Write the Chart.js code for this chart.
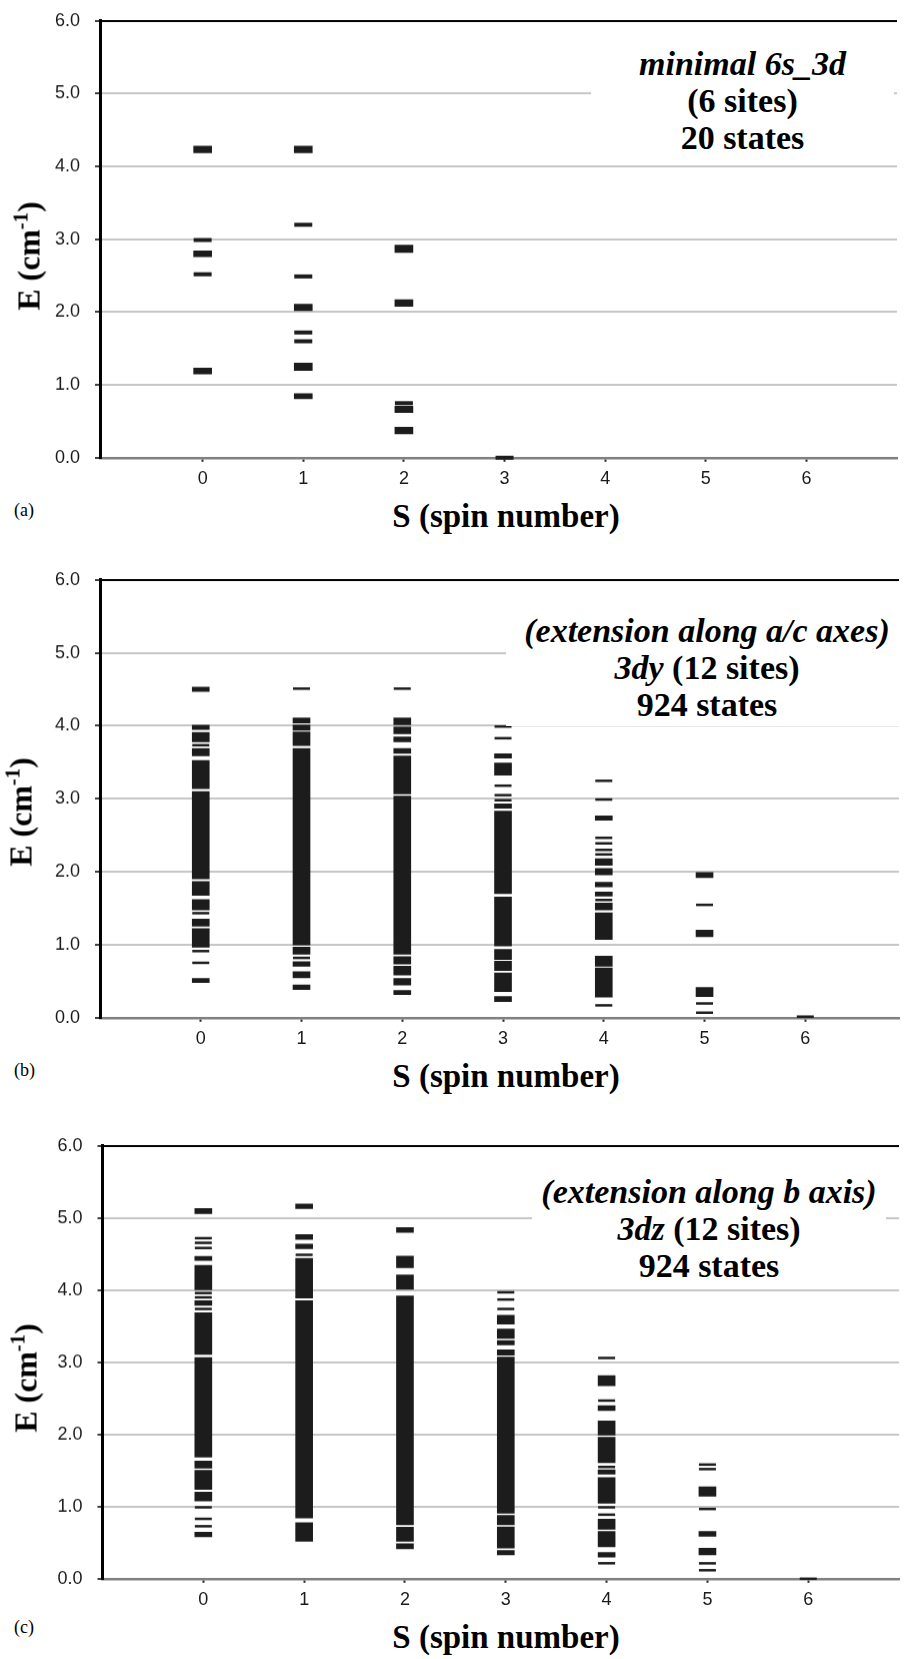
<!DOCTYPE html>
<html>
<head>
<meta charset="utf-8">
<title>Energy levels vs spin number</title>
<script src="https://cdn.jsdelivr.net/npm/chart.js@4.4.1/dist/chart.umd.min.js"></script>
<style>
  html, body { margin: 0; padding: 0; background: #fff; }
  #page { position: relative; width: 910px; height: 1659px; overflow: hidden; background: #fff; }
  .panel { position: absolute; left: 0; width: 910px; }
  .note { position: absolute; background: #fff; text-align: center; color: #000; z-index: 2;
          font: bold 34px/37px "Liberation Serif", "Times New Roman", serif; }
  .ytitle, .xtitle { position: absolute; white-space: nowrap; color: #000; z-index: 2;
          font: bold 33px "Liberation Serif", "Times New Roman", serif; }
  .ytitle { font-size: 32px; transform: translate(-50%, -50%) rotate(-90deg); }
  .xtitle { transform: translate(-50%, -50%); }
  .ytitle sup { font-size: 0.65em; position: relative; top: -0.12em; vertical-align: top; }
  .tag { position: absolute; left: 14px; transform: translateY(-50%); color: #000;
         font: 18px "Liberation Serif", "Times New Roman", serif; }
</style>
</head>
<body>
<div id="page">
  <div class="panel" id="boxA"><canvas id="chartA"></canvas></div>
  <div class="panel" id="boxB"><canvas id="chartB"></canvas></div>
  <div class="panel" id="boxC"><canvas id="chartC"></canvas></div>

  <div class="note" style="left:591px; top:45px; width:303px; height:115px;">
    <i>minimal 6s_3d</i><br>(6 sites)<br>20 states
  </div>
  <div class="note" style="left:506px; top:612px; width:402px; height:114px;">
    <i>(extension along a/c axes)</i><br><i>3dy</i> (12 sites)<br>924 states
  </div>
  <div class="note" style="left:532px; top:1173px; width:354px; height:115px;">
    <i>(extension along b axis)</i><br><i>3dz</i> (12 sites)<br>924 states
  </div>

  <div class="ytitle" style="left:29px; top:256px;">E (cm<sup>-1</sup>)</div>
  <div class="ytitle" style="left:21px; top:812px;">E (cm<sup>-1</sup>)</div>
  <div class="ytitle" style="left:26px; top:1378px;">E (cm<sup>-1</sup>)</div>

  <div class="xtitle" style="left:506px; top:516px;">S (spin number)</div>
  <div class="xtitle" style="left:506px; top:1076px;">S (spin number)</div>
  <div class="xtitle" style="left:506px; top:1637px;">S (spin number)</div>

  <div class="tag" style="top:510px;">(a)</div>
  <div class="tag" style="top:1070px;">(b)</div>
  <div class="tag" style="top:1627px;">(c)</div>
</div>

<script>
// axis values
const spinValues = [0, 1, 2, 3, 4, 5, 6];
const energyTicks = [0, 1, 2, 3, 4, 5, 6];

// (a) minimal 6s_3d, 20 states
// single levels per S (index = S), in cm-1
const levelsA = [
    [2.99, 2.52],
    [3.20, 2.49, 1.72, 1.60],
    [0.75],
    [0.0],
    [], [], []
];
// dense groups of levels per S, [from, to] in cm-1
const bandsA = [
    [[4.19, 4.28], [2.76, 2.84], [1.15, 1.23]],
    [[4.19, 4.28], [2.02, 2.11], [1.20, 1.30], [0.81, 0.88]],
    [[2.82, 2.92], [2.08, 2.17], [0.62, 0.71], [0.33, 0.42]],
    [], [], [], []
];

// (b) 3dy, 924 states
const levelsB = [
    [3.735, 1.433, 0.913, 0.753],
    [4.51, 0.82],
    [4.51],
    [3.99, 3.83, 3.18, 3.05, 2.98],
    [3.247, 2.99, 2.466, 2.39, 2.30, 2.238, 1.614, 0.17],
    [1.547, 0.196, 0.069],
    [0.015]
];
const bandsB = [
    [[4.47, 4.53], [3.95, 4.01], [3.78, 3.91], [3.59, 3.69], [3.14, 3.525], [1.905, 3.10],
     [1.676, 1.868], [1.479, 1.621], [1.255, 1.351], [0.966, 1.22], [0.481, 0.54]],
    [[4.038, 4.107], [3.938, 4.011], [3.73, 3.915], [0.998, 3.69], [0.87, 0.966],
     [0.705, 0.769], [0.549, 0.632], [0.385, 0.449]],
    [[4.016, 4.107], [3.892, 3.984], [3.782, 3.846], [3.622, 3.69], [3.068, 3.585],
     [0.87, 3.036], [0.737, 0.838], [0.586, 0.705], [0.449, 0.54], [0.316, 0.375]],
    [[3.557, 3.617], [3.326, 3.492], [2.87, 2.93], [1.70, 2.83], [0.984, 1.654],
     [0.799, 0.938], [0.647, 0.776], [0.36, 0.614], [0.222, 0.291]],
    [[2.707, 2.767], [2.088, 2.18], [1.958, 2.046], [1.792, 1.857], [1.667, 1.723],
     [1.478, 1.57], [1.072, 1.437], [0.707, 0.845], [0.282, 0.684]],
    [[1.921, 1.99], [1.109, 1.20], [0.291, 0.416]],
    []
];

// (c) 3dz, 924 states
const levelsC = [
    [4.72, 4.656, 4.585, 3.96, 3.90, 3.74, 0.99, 0.83, 0.728],
    [4.49],
    [],
    [3.97, 3.87, 3.74],
    [3.06, 2.47, 1.55, 0.99, 0.888, 0.215],
    [1.583, 1.52, 0.967, 0.214, 0.118],
    [0.0]
];
const bandsC = [
    [[5.06, 5.13], [4.41, 4.47], [4.006, 4.344], [3.79, 3.854], [3.11, 3.688], [1.687, 3.064],
     [1.534, 1.631], [1.238, 1.502], [1.077, 1.201], [0.582, 0.647]],
    [[5.13, 5.194], [4.704, 4.769], [4.575, 4.64], [3.891, 4.441], [0.841, 3.854], [0.518, 0.776]],
    [[4.80, 4.866], [4.311, 4.473], [4.011, 4.21], [0.749, 3.919], [0.518, 0.716], [0.416, 0.485]],
    [[3.53, 3.654], [3.33, 3.46], [3.24, 3.30], [3.10, 3.174], [0.909, 3.073], [0.747, 0.877],
     [0.424, 0.72], [0.332, 0.392]],
    [[2.676, 2.814], [2.33, 2.40], [1.993, 2.187], [1.61, 1.961], [1.449, 1.509], [1.047, 1.403],
     [0.687, 0.826], [0.443, 0.655], [0.30, 0.364]],
    [[1.144, 1.273], [0.59, 0.655], [0.332, 0.424]],
    []
];

const MARK = '#1c1c1c';
const XAXIS_H = 36;

Chart.defaults.font.family = "'Liberation Sans', Arial, sans-serif";
Chart.defaults.font.size = 18;
Chart.defaults.color = '#1a1a1a';

function buildChart(id, levels, bands, cfg) {
    const box = document.getElementById('box' + id);
    const plotH = cfg.plotBottom - cfg.plotTop;
    box.style.top = (cfg.plotTop - 15) + 'px';
    box.style.height = (plotH + 15 + XAXIS_H) + 'px';

    const levelPoints = [];
    levels.forEach((list, s) => list.forEach(e => levelPoints.push({ x: spinValues[s], y: e })));
    const bandBars = [];
    bands.forEach((list, s) => list.forEach(b => bandBars.push({ x: spinValues[s], y: b })));

    const chart = new Chart(document.getElementById('chart' + id), {
        type: 'bar',
        data: {
            datasets: [
                {
                    type: 'bar',
                    data: bandBars,
                    backgroundColor: MARK,
                    borderWidth: 0,
                    barThickness: cfg.markWidth,
                    grouped: false
                },
                {
                    type: 'scatter',
                    data: levelPoints,
                    pointStyle: 'line',
                    pointRadius: cfg.markWidth / 2,
                    borderColor: MARK,
                    backgroundColor: MARK,
                    borderWidth: cfg.lineWidth,
                    clip: false
                }
            ]
        },
        options: {
            responsive: true,
            maintainAspectRatio: false,
            devicePixelRatio: 1,
            animation: false,
            events: [],
            layout: { padding: { top: 15, right: 0, bottom: 0, left: 0 } },
            plugins: { legend: { display: false }, tooltip: { enabled: false } },
            scales: {
                x: {
                    type: 'linear',
                    min: cfg.xMin,
                    max: cfg.xMax,
                    offset: false,
                    afterBuildTicks: scale => { scale.ticks = spinValues.map(v => ({ value: v })); },
                    afterFit: scale => { scale.height = XAXIS_H; },
                    ticks: { padding: 6, callback: v => String(v), maxRotation: 0 },
                    // z -1 keeps the axis line under the levels sitting at E = 0
                    grid: { z: -1, offset: false, drawOnChartArea: false, drawTicks: true, tickLength: 4, tickColor: '#222', tickWidth: 2 },
                    border: { display: true, color: '#7f7f7f', width: 2.5 }
                },
                y: {
                    type: 'linear',
                    min: 0,
                    max: 6,
                    afterBuildTicks: scale => { scale.ticks = energyTicks.map(v => ({ value: v })); },
                    afterFit: scale => { scale.width = cfg.plotLeft; },
                    ticks: { padding: 15, callback: v => v.toFixed(1) },
                    grid: {
                        z: -1,
                        color: ctx => ctx.tick.value === 6 ? '#000' : (ctx.tick.value === 0 ? '#7f7f7f' : '#c6c6c6'),
                        lineWidth: 2,
                        drawTicks: true,
                        tickLength: 5,
                        tickColor: '#000',
                        tickWidth: 1.5
                    },
                    border: { display: true, color: '#000', width: 3 }
                }
            }
        }
    });

    // second pass: shift/resize the canvas so the plot area sits exactly on plotTop..plotBottom
    const padTop = chart.chartArea.top;
    const padBottom = chart.height - chart.chartArea.bottom;
    box.style.top = (cfg.plotTop - padTop) + 'px';
    box.style.height = (plotH + padTop + padBottom) + 'px';
    chart.resize();
    return chart;
}

buildChart('A', levelsA, bandsA, { plotTop: 21, plotBottom: 457, plotLeft: 100, xMin: -1.02, xMax: 6.9, markWidth: 18, lineWidth: 4 });
buildChart('B', levelsB, bandsB, { plotTop: 580, plotBottom: 1017, plotLeft: 100, xMin: -1.0, xMax: 6.93, markWidth: 17, lineWidth: 2.5 });
buildChart('C', levelsC, bandsC, { plotTop: 1146, plotBottom: 1578, plotLeft: 102.5, xMin: -1.0, xMax: 6.9, markWidth: 17, lineWidth: 2.5 });
</script>
</body>
</html>
